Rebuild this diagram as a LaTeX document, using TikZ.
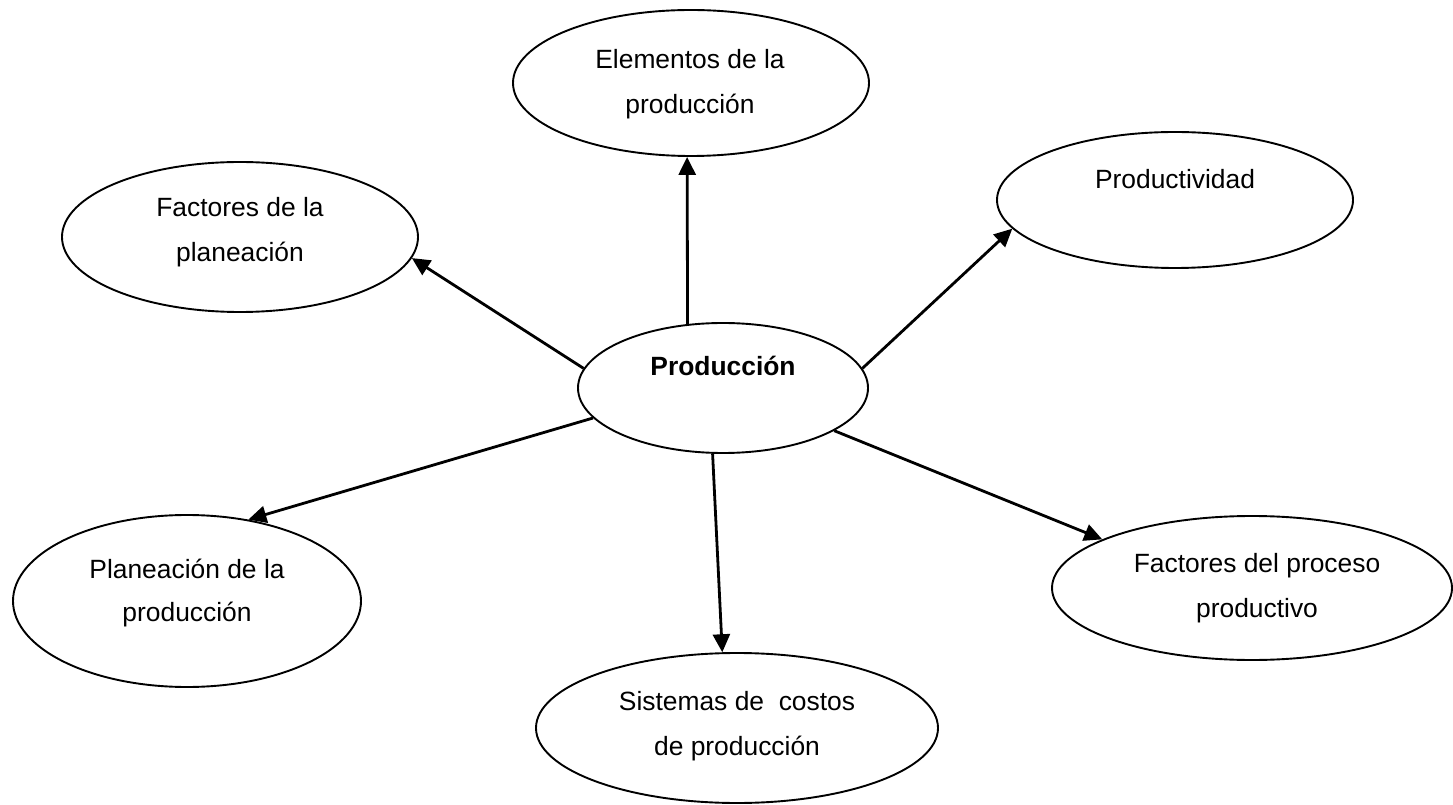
\documentclass[tikz,border=0pt]{standalone}
\usepackage{fontspec}
\setmainfont{Liberation Sans}
\usetikzlibrary{shapes.geometric,arrows.meta}

\tikzset{
  bubble/.style={draw, ellipse, line width=1.9pt, inner sep=0pt},
  lbl/.style={anchor=base, inner sep=0pt, font=\fontsize{26.4}{30}\selectfont},
  link/.style={line width=2.8pt, -{Triangle[length=18pt,width=17pt]}}
}

\begin{document}
\begin{tikzpicture}[x=1pt, y=1pt]
\useasboundingbox (0,0) rectangle (1453,804);

% ellipses
\node[bubble, minimum width=356pt, minimum height=146pt] (elem)  at (691,721)  {};
\node[bubble, minimum width=356pt, minimum height=136pt] (prodv) at (1175,604) {};
\node[bubble, minimum width=356pt, minimum height=150pt] (facpl) at (240,567)  {};
\node[bubble, minimum width=290pt, minimum height=130pt] (prod)  at (723,416)  {};
\node[bubble, minimum width=348pt, minimum height=172pt] (plan)  at (187,203)  {};
\node[bubble, minimum width=402pt, minimum height=150pt] (sist)  at (737,76)   {};
\node[bubble, minimum width=400pt, minimum height=144pt] (facpr) at (1252,216) {};

% labels
\node[lbl] (elem-a)  at (690,735)  {Elementos de la};
\node[lbl] (elem-b)  at (690,690)  {producción};
\node[lbl] (prodv-a) at (1175,615) {Productividad};
\node[lbl] (facpl-a) at (240,587)  {Factores de la};
\node[lbl] (facpl-b) at (240,542)  {planeación};
\node[lbl, font=\fontsize{26.4}{30}\selectfont\bfseries] (prod-a) at (723,428) {Producción};
\node[lbl] (plan-a)  at (187,226)  {Planeación de la};
\node[lbl] (plan-b)  at (187,183)  {producción};
\node[lbl] (sist-a)  at (737,94)   {Sistemas de\ \ costos};
\node[lbl] (sist-b)  at (737,49)   {de producción};
\node[lbl] (facpr-a) at (1257,232) {Factores del proceso};
\node[lbl] (facpr-b) at (1257,187) {productivo};

% connectors
\draw[link] (prod.119)   -- (elem.-93);
\draw[link] (prod.8)     -- (prodv.190);
\draw[link] (prod.172)   -- (facpl.-7.5);
\draw[link] (prod.193)   -- (plan.53);
\draw[link] (prod.-99.6) -- (sist.101.3);
\draw[link] (prod.-21)   -- (facpr.162);
\end{tikzpicture}
\end{document}
